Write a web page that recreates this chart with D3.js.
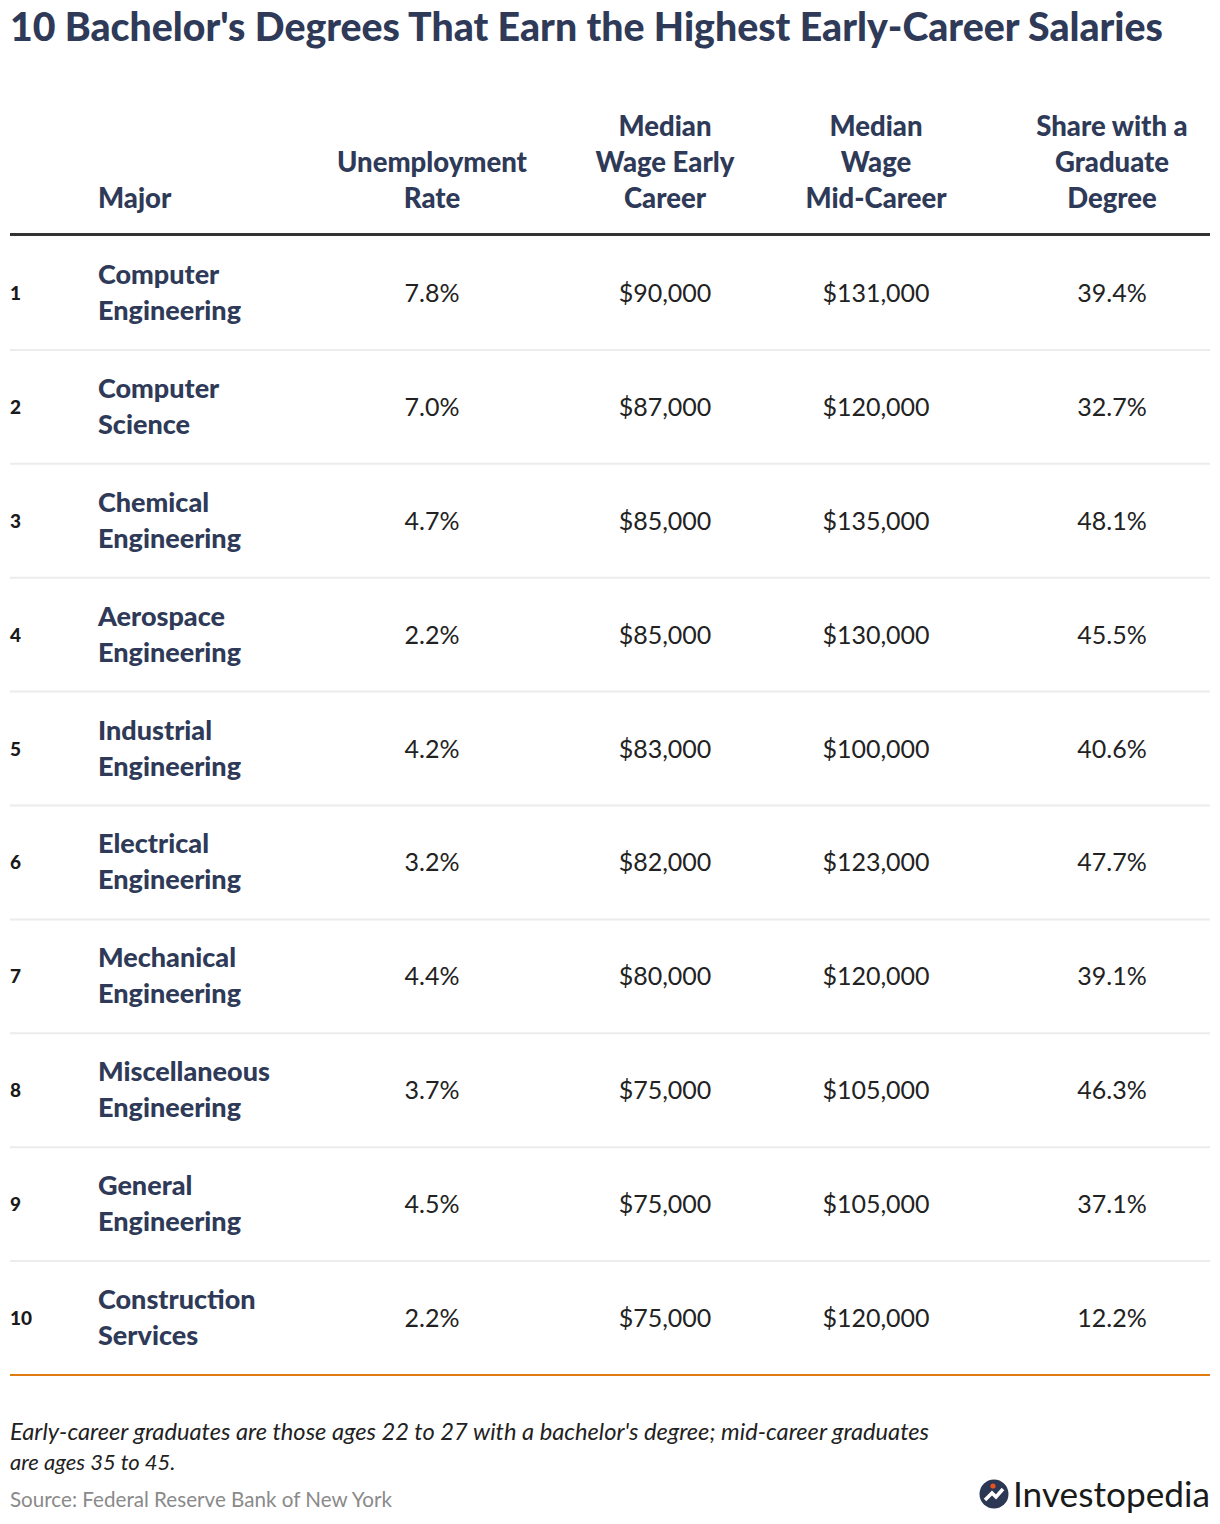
<!DOCTYPE html>
<html>
<head>
<meta charset="utf-8">
<script src="https://cdn.jsdelivr.net/npm/d3@7"></script>
<style>
  html, body { margin: 0; padding: 0; background: #fff; }
  svg { display: block; }
  text { font-family: "Source Sans Pro", "Lato", "Noto Sans", sans-serif; }
</style>
</head>
<body>
<svg id="chart" width="1220" height="1524"></svg>
<script>
const title = "10 Bachelor's Degrees That Earn the Highest Early-Career Salaries";
const ranks = [1, 2, 3, 4, 5, 6, 7, 8, 9, 10];
const majors = [
  ["Computer", "Engineering"],
  ["Computer", "Science"],
  ["Chemical", "Engineering"],
  ["Aerospace", "Engineering"],
  ["Industrial", "Engineering"],
  ["Electrical", "Engineering"],
  ["Mechanical", "Engineering"],
  ["Miscellaneous", "Engineering"],
  ["General", "Engineering"],
  ["Construction", "Services"]
];
const unemployment = ["7.8%", "7.0%", "4.7%", "2.2%", "4.2%", "3.2%", "4.4%", "3.7%", "4.5%", "2.2%"];
const wageEarly = ["$90,000", "$87,000", "$85,000", "$85,000", "$83,000", "$82,000", "$80,000", "$75,000", "$75,000", "$75,000"];
const wageMid = ["$131,000", "$120,000", "$135,000", "$130,000", "$100,000", "$123,000", "$120,000", "$105,000", "$105,000", "$120,000"];
const gradShare = ["39.4%", "32.7%", "48.1%", "45.5%", "40.6%", "47.7%", "39.1%", "46.3%", "37.1%", "12.2%"];
const headers = {
  major: ["Major"],
  unemp: ["Unemployment", "Rate"],
  early: ["Median", "Wage Early", "Career"],
  mid: ["Median", "Wage", "Mid-Career"],
  grad: ["Share with a", "Graduate", "Degree"]
};
const footnote = ["Early-career graduates are those ages 22 to 27 with a bachelor's degree; mid-career graduates", "are ages 35 to 45."];
const source = "Source: Federal Reserve Bank of New York";

const svg = d3.select("#chart");
const navy = "#2e3a57";
const left = 10, right = 1210;

function fitWidth(sel, target) {
  sel.each(function() {
    const node = this;
    const w = node.getComputedTextLength();
    const fs = parseFloat(d3.select(node).attr("font-size"));
    if (w > 0) d3.select(node).attr("font-size", fs * target / w);
  });
}

// Title
svg.append("text")
  .attr("x", left).attr("y", 41)
  .attr("font-size", 34).attr("font-weight", 900)
  .attr("fill", navy)
  .text(title)
  .call(fitWidth, 1153);

// Scales
const y = d3.scaleBand().domain(ranks).range([236, 1375]).padding(0);
const colKeys = ["unemp", "early", "mid", "grad"];
const x = d3.scaleOrdinal().domain(["rank", "major"].concat(colKeys)).range([10, 98, 432, 665, 876, 1112]);

// Headers (bottom aligned)
const headerBase = 208, lh = 36;
Object.entries(headers).forEach(([key, lines]) => {
  const g = svg.append("g");
  g.selectAll("text").data(lines).join("text")
    .attr("x", x(key))
    .attr("y", (d, i) => headerBase - (lines.length - 1 - i) * lh)
    .attr("text-anchor", key === "major" ? "start" : "middle")
    .attr("font-size", 27.5).attr("font-weight", 900)
    .attr("fill", navy)
    .text(d => d);
});

// Header rule
svg.append("line")
  .attr("x1", left).attr("x2", right)
  .attr("y1", 234.5).attr("y2", 234.5)
  .attr("stroke", "#333").attr("stroke-width", 3);

// Rows
const rows = svg.append("g").selectAll("g").data(ranks).join("g")
  .attr("transform", d => `translate(0,${y(d) + y.bandwidth() / 2})`);

rows.append("line")
  .attr("x1", left).attr("x2", right)
  .attr("y1", y.bandwidth() / 2).attr("y2", y.bandwidth() / 2)
  .attr("stroke", (d, i) => i === ranks.length - 1 ? "#e07b0f" : "#ececec")
  .attr("stroke-width", 2);

rows.append("text")
  .attr("x", x("rank")).attr("y", 7)
  .attr("font-size", 19).attr("font-weight", 900).attr("fill", "#1a1a1a")
  .text(d => d);

rows.each(function(d, i) {
  const g = d3.select(this);
  g.selectAll("text.major").data(majors[i]).join("text")
    .attr("class", "major")
    .attr("x", x("major"))
    .attr("y", (t, j) => -18 + j * 36 + 9)
    .attr("font-size", 27).attr("font-weight", 900).attr("fill", navy)
    .text(t => t);
  const vals = [unemployment[i], wageEarly[i], wageMid[i], gradShare[i]];
  g.selectAll("text.val").data(vals).join("text")
    .attr("class", "val")
    .attr("x", (v, j) => x(colKeys[j]))
    .attr("y", 9)
    .attr("text-anchor", "middle")
    .attr("font-size", 25).attr("font-weight", 400).attr("fill", "#222")
    .text(v => v);
});

// Footnote
svg.append("g").selectAll("text").data(footnote).join("text")
  .attr("x", left).attr("y", (d, i) => 1440 + i * 30)
  .attr("font-size", 22).attr("font-style", "italic").attr("fill", "#222")
  .text(d => d)
  .filter((d, i) => i === 0).call(fitWidth, 920);

svg.append("text")
  .attr("x", left).attr("y", 1507)
  .attr("font-size", 20).attr("fill", "#8a8a8a")
  .text(source)
  .call(fitWidth, 382);

// Logo
const logo = svg.append("g").attr("transform", "translate(994,1494)");
logo.append("circle").attr("r", 14.5).attr("fill", "#2c3754");
logo.append("path")
  .attr("d", "M-9,6 L-2,-1 L2,3 L9,-5")
  .attr("fill", "none").attr("stroke", "#fff").attr("stroke-width", 3.5)
  .attr("stroke-linejoin", "miter");
logo.append("circle").attr("cx", -1).attr("cy", -8).attr("r", 2.6).attr("fill", "#e8531f");
svg.append("text")
  .attr("x", 1013).attr("y", 1507)
  .attr("font-size", 36).attr("font-weight", 400).attr("fill", "#1a1a1a")
  .attr("font-family", "Lato, sans-serif")
  .text("Investopedia")
  .call(fitWidth, 197);
</script>
</body>
</html>
